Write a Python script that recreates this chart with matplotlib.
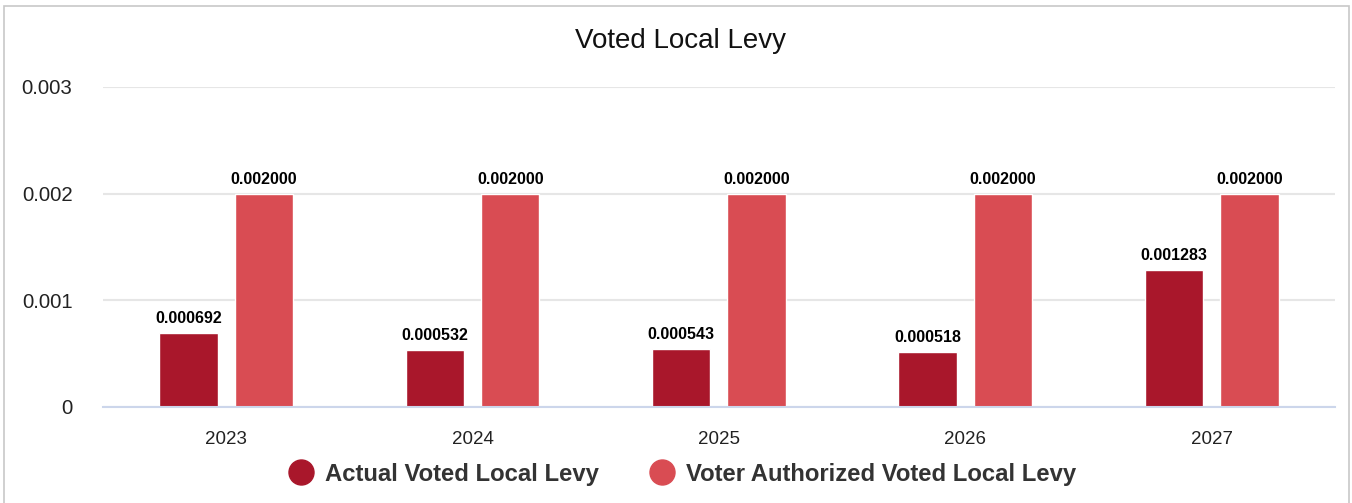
import matplotlib.pyplot as plt
import numpy as np
from matplotlib.lines import Line2D

plt.rcParams['font.family'] = ['Liberation Sans', 'DejaVu Sans']

years = ['2023', '2024', '2025', '2026', '2027']
actual = [0.000692, 0.000532, 0.000543, 0.000518, 0.001283]
authorized = [0.002000, 0.002000, 0.002000, 0.002000, 0.002000]
series_names = ['Actual Voted Local Levy', 'Voter Authorized Voted Local Levy']
colors = ['#a9172b', '#d94c53']

fig = plt.figure(figsize=(13.52, 5.03), dpi=100)
ax = fig.add_axes([0.0762, 0.1909, 0.9112, 0.6362])

x = np.arange(len(years))
w = 0.237
off = 0.153
b1 = ax.bar(x - off, actual, w, color=colors[0], edgecolor='white', linewidth=1, zorder=3)
b2 = ax.bar(x + off, authorized, w, color=colors[1], edgecolor='white', linewidth=1, zorder=3)

for bars, vals in [(b1, actual), (b2, authorized)]:
    for rect, v in zip(bars, vals):
        ax.annotate(f"{v:.6f}", (rect.get_x() + rect.get_width() / 2, v),
                    xytext=(0, 5), textcoords='offset points', ha='center', va='bottom',
                    fontsize=11.5, fontweight='bold', color='black', zorder=4)

ax.set_xlim(-0.5, len(years) - 0.5)
ax.set_ylim(0, 0.003)
ax.set_yticks([0, 0.001, 0.002, 0.003])
ax.set_yticklabels(['0', '0.001', '0.002', '0.003'])
ax.set_xticks(x)
ax.set_xticklabels(years)
ax.tick_params(axis='y', length=0, pad=22, labelsize=14.7, labelcolor='#222222')
ax.tick_params(axis='x', length=0, pad=17, labelsize=13.5, labelcolor='#222222')
ax.yaxis.grid(True, color='#e6e6e6', linewidth=1.5, zorder=0)
ax.set_axisbelow(True)
for s in ['top', 'right', 'left']:
    ax.spines[s].set_visible(False)
ax.spines['bottom'].set_color('#ccd6eb')
ax.spines['bottom'].set_linewidth(1.5)
ax.spines['bottom'].set_zorder(5)

fig.text(0.503, 0.918, 'Voted Local Levy', ha='center', va='center', fontsize=20, color='#111111')

handles = [Line2D([], [], marker='o', linestyle='none', markersize=18, color=c) for c in colors]
leg = fig.legend(handles, series_names, loc='center', bbox_to_anchor=(0.5005, 0.057), ncol=2,
                 frameon=False, handletextpad=0.0, columnspacing=1.65,
                 prop={'size': 17.2, 'weight': 'bold'})
for t in leg.get_texts():
    t.set_color('#333333')

fig.add_artist(plt.Rectangle((0.003, -0.05), 0.995, 1.038, transform=fig.transFigure,
                             fill=False, edgecolor='#c8c8c8', linewidth=1.2))

fig.savefig('out.png', dpi=100)
